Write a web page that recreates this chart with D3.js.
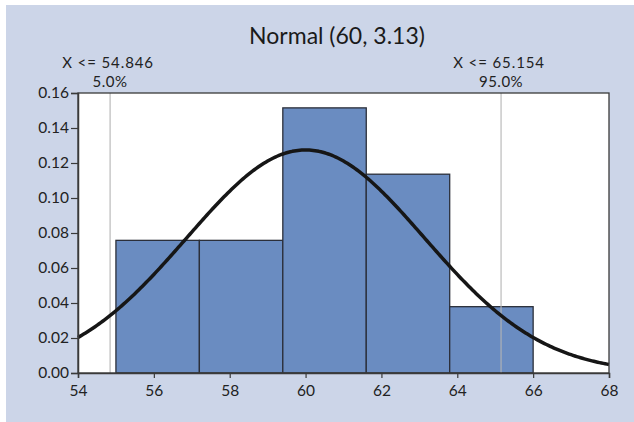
<!DOCTYPE html>
<html>
<head>
<meta charset="utf-8">
<script src="https://cdn.jsdelivr.net/npm/d3@7"></script>
<style>
  html, body { margin: 0; padding: 0; background: #fff; }
  svg { display: block; font-family: Lato, "Open Sans", sans-serif; }
</style>
</head>
<body>
<div id="chart"></div>
<script>
// --- Data ---
const title = "Normal (60, 3.13)";
const mu = 60, sigma = 3.13;
const binEdges = [55, 57.2, 59.4, 61.6, 63.8, 66.0];
const binDensity = [0.0758, 0.0758, 0.1515, 0.1136, 0.0379];
const xTicks = [54, 56, 58, 60, 62, 64, 66, 68];
const yTicks = [0, 0.02, 0.04, 0.06, 0.08, 0.10, 0.12, 0.14, 0.16];
const cutoffs = [
  { x: 54.846, label: "X <= 54.846", pct: "5.0%" },
  { x: 65.154, label: "X <= 65.154", pct: "95.0%" }
];

// --- Layout ---
const W = 634, H = 422;
const margin = { left: 78, right: 25, top: 93, bottom: 49 };

const svg = d3.select('#chart').append('svg').attr('width', W).attr('height', H);

// panel background
svg.append('rect').attr('x', 6).attr('y', 5).attr('width', W - 6).attr('height', H - 5)
  .attr('fill', '#ccd5e8');

const x = d3.scaleLinear().domain([54, 68]).range([margin.left, W - margin.right]);
const y = d3.scaleLinear().domain([0, 0.16]).range([H - margin.bottom, margin.top]);

// plot area
svg.append('rect')
  .attr('x', x(54)).attr('y', y(0.16))
  .attr('width', x(68) - x(54)).attr('height', y(0) - y(0.16))
  .attr('fill', '#fff');

// bars
const bins = binDensity.map((v, i) => ({ x0: binEdges[i], x1: binEdges[i + 1], v }));
svg.selectAll('rect.bar')
  .data(bins)
  .join('rect')
  .attr('class', 'bar')
  .attr('x', d => x(d.x0)).attr('y', d => y(d.v))
  .attr('width', d => x(d.x1) - x(d.x0)).attr('height', d => y(0) - y(d.v))
  .attr('fill', '#6a8cc1')
  .attr('stroke', '#2b2f3a').attr('stroke-width', 1.3);

// cutoff lines (drawn over bars)
svg.selectAll('line.cut')
  .data(cutoffs)
  .join('line')
  .attr('class', 'cut')
  .attr('x1', d => x(d.x)).attr('x2', d => x(d.x))
  .attr('y1', y(0.16)).attr('y2', y(0))
  .attr('stroke', '#b4b4b4').attr('stroke-width', 1.1);

// normal curve
const pdf = t => Math.exp(-0.5 * ((t - mu) / sigma) ** 2) / (sigma * Math.sqrt(2 * Math.PI));
const xs = d3.range(54, 68.001, 0.05);
svg.append('path')
  .datum(xs)
  .attr('d', d3.line().x(d => x(d)).y(d => y(pdf(d))))
  .attr('fill', 'none').attr('stroke', '#161616').attr('stroke-width', 3.5)
  .attr('stroke-linejoin', 'round');

// frame
svg.append('rect')
  .attr('x', x(54)).attr('y', y(0.16))
  .attr('width', x(68) - x(54)).attr('height', y(0) - y(0.16))
  .attr('fill', 'none').attr('stroke', '#3a3a3a').attr('stroke-width', 1.3);

// axes
const xAxis = svg.append('g').attr('transform', `translate(0,${y(0)})`)
  .call(d3.axisBottom(x).tickValues(xTicks).tickFormat(d3.format('d')).tickSize(5).tickPadding(7));
const yAxis = svg.append('g').attr('transform', `translate(${x(54)},0)`)
  .call(d3.axisLeft(y).tickValues(yTicks).tickFormat(d3.format('.2f')).tickSize(7).tickPadding(2));
[xAxis, yAxis].forEach(a => {
  a.select('.domain').attr('stroke', '#3a3a3a').attr('stroke-width', 1.5);
  a.selectAll('.tick line').attr('stroke', '#3a3a3a').attr('stroke-width', 1.2);
  a.selectAll('.tick text').attr('fill', '#222').style('font-size', '15.5px')
    .style('font-family', 'Lato, "Open Sans", sans-serif');
});

// cutoff labels
const lab = svg.selectAll('g.lab').data(cutoffs).join('g').attr('class', 'lab');
lab.append('text').attr('x', d => x(d.x) - 2).attr('y', 68)
  .attr('text-anchor', 'middle').attr('fill', '#222')
  .style('font-size', '15px').style('letter-spacing', '0.9px')
  .text(d => d.label);
lab.append('text').attr('x', d => x(d.x)).attr('y', 87)
  .attr('text-anchor', 'middle').attr('fill', '#222')
  .style('font-size', '15px').style('letter-spacing', '0.5px')
  .text(d => d.pct);

// title
svg.append('text').attr('x', 337).attr('y', 44)
  .attr('text-anchor', 'middle').attr('fill', '#1a1a1a')
  .style('font-size', '23px')
  .text(title);
</script>
</body>
</html>
